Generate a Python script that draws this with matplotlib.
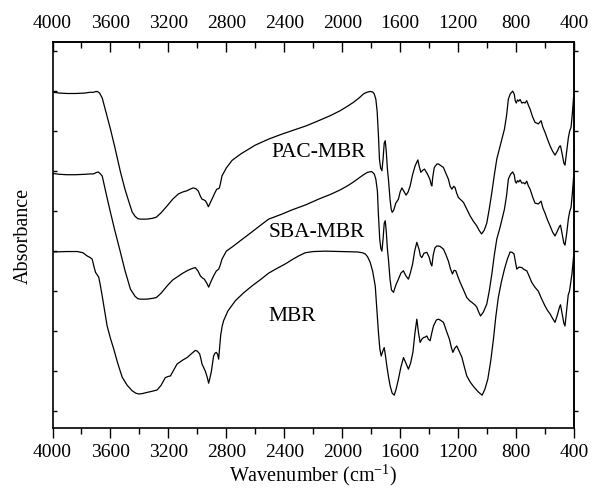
import matplotlib
matplotlib.use("Agg")
import matplotlib.pyplot as plt

plt.rcParams['font.family'] = ['Liberation Serif', 'DejaVu Serif']
plt.rcParams['mathtext.fontset'] = 'custom'
plt.rcParams['mathtext.rm'] = 'Liberation Serif'
plt.rcParams['mathtext.it'] = 'Liberation Serif:italic'

# FTIR spectra (wavenumber in cm-1, absorbance in arbitrary offset units)
pac_wn = [3995, 3950, 3900, 3841, 3780, 3740, 3717, 3700, 3690, 3675, 3657, 3640, 3620, 3600,
          3570, 3531, 3500, 3470, 3450, 3430, 3410, 3393, 3350, 3310, 3283, 3250, 3209, 3170,
          3131, 3100, 3071, 3050, 3028, 3010, 2993, 2980, 2968, 2955, 2945, 2935, 2924, 2912,
          2899, 2880, 2866, 2855, 2848, 2840, 2830, 2800, 2760, 2700, 2600, 2508, 2420, 2347,
          2250, 2163, 2080, 2014, 1960, 1922, 1880, 1853, 1830, 1807, 1790, 1779, 1768, 1759,
          1750, 1743, 1735, 1726, 1718, 1710, 1703, 1696, 1688, 1681, 1670, 1662, 1655, 1645,
          1630, 1612, 1600, 1588, 1575, 1559, 1545, 1531, 1515, 1497, 1478, 1467, 1457, 1445,
          1432, 1420, 1412, 1395, 1385, 1381, 1375, 1365, 1359, 1345, 1336, 1320, 1301, 1285,
          1267, 1255, 1243, 1230, 1221, 1210, 1198, 1180, 1163, 1140, 1117, 1095, 1071, 1055,
          1038, 1020, 1002, 985, 967, 950, 933, 910, 895, 880, 865, 853, 840, 823, 812, 805,
          798, 790, 782, 772, 760, 749, 738, 726, 715, 703, 685, 669, 646, 627, 615, 600, 583,
          565, 548, 531, 515, 500, 493, 480, 470, 462, 450, 439, 430, 420, 410, 400]
pac_abs = [7.97, 7.95, 7.94, 7.94, 7.95, 7.97, 7.97, 7.99, 7.99, 7.95, 7.83, 7.60, 7.33, 7.05,
           6.60, 5.98, 5.55, 5.20, 4.98, 4.87, 4.81, 4.80, 4.80, 4.82, 4.85, 4.96, 5.13, 5.30,
           5.43, 5.48, 5.51, 5.55, 5.58, 5.56, 5.50, 5.38, 5.30, 5.28, 5.26, 5.20, 5.11, 5.20,
           5.30, 5.45, 5.55, 5.56, 5.58, 5.70, 5.88, 6.08, 6.27, 6.43, 6.65, 6.80, 6.92, 7.01,
           7.13, 7.26, 7.39, 7.51, 7.63, 7.72, 7.84, 7.93, 7.97, 7.99, 7.98, 7.93, 7.80, 7.50,
           6.90, 6.30, 6.08, 6.01, 6.30, 6.70, 6.76, 6.50, 6.05, 5.80, 5.30, 5.05, 4.97, 5.02,
           5.20, 5.30, 5.48, 5.58, 5.50, 5.40, 5.48, 5.63, 5.90, 6.13, 6.28, 6.10, 5.97, 6.02,
           6.05, 5.98, 5.93, 5.80, 5.65, 5.63, 5.85, 6.08, 6.12, 6.18, 6.18, 6.14, 6.09, 5.95,
           5.80, 5.62, 5.55, 5.62, 5.59, 5.45, 5.34, 5.28, 5.22, 5.05, 4.88, 4.75, 4.63, 4.52,
           4.43, 4.52, 4.70, 5.05, 5.47, 5.90, 6.30, 6.63, 6.85, 7.05, 7.40, 7.80, 7.93, 8.00, 7.92, 7.75,
           7.70, 7.78, 7.75, 7.79, 7.70, 7.72, 7.70, 7.76, 7.65, 7.55, 7.35, 7.22, 7.18, 7.26, 7.10, 6.97, 6.80,
           6.63, 6.50, 6.40, 6.50, 6.62, 6.63, 6.40, 6.20, 6.15, 6.50, 6.83, 7.00, 7.10, 7.50, 7.99]

sba_wn = [3995, 3950, 3900, 3841, 3780, 3740, 3717, 3700, 3685, 3672, 3657, 3640, 3620, 3600,
          3570, 3531, 3500, 3462, 3430, 3410, 3393, 3350, 3310, 3283, 3250, 3209, 3170, 3129,
          3100, 3071, 3040, 3014, 2995, 2979, 2965, 2952, 2935, 2922, 2905, 2888, 2870, 2853,
          2842, 2830, 2800, 2750, 2700, 2634, 2570, 2508, 2420, 2347, 2250, 2163, 2080, 2014,
          1960, 1922, 1880, 1853, 1825, 1797, 1779, 1768, 1757, 1750, 1741, 1733, 1726, 1718,
          1710, 1703, 1696, 1688, 1681, 1670, 1660, 1646, 1630, 1612, 1595, 1578, 1560, 1543,
          1530, 1514, 1500, 1485, 1470, 1460, 1450, 1435, 1416, 1400, 1388, 1381, 1372, 1360,
          1347, 1325, 1301, 1285, 1267, 1252, 1239, 1228, 1216, 1200, 1186, 1165, 1140, 1120,
          1105, 1085, 1071, 1058, 1045, 1025, 1002, 985, 967, 950, 933, 910, 895, 880, 865, 853,
          838, 823, 812, 805, 798, 790, 782, 772, 760, 749, 738, 726, 715, 703, 685, 669, 646,
          627, 615, 600, 583, 565, 548, 531, 515, 500, 493, 480, 470, 462, 450, 439, 430, 420,
          410, 400]
sba_abs = [5.94, 5.92, 5.91, 5.91, 5.92, 5.93, 5.93, 5.96, 5.98, 5.94, 5.88, 5.60, 5.28, 4.97,
           4.52, 3.97, 3.52, 3.05, 2.87, 2.81, 2.80, 2.80, 2.82, 2.84, 2.95, 3.13, 3.28, 3.38,
           3.45, 3.51, 3.56, 3.59, 3.50, 3.38, 3.33, 3.30, 3.20, 3.10, 3.25, 3.38, 3.50, 3.55,
           3.65, 3.80, 4.00, 4.13, 4.27, 4.45, 4.63, 4.80, 4.92, 5.03, 5.16, 5.30, 5.42, 5.53,
           5.64, 5.73, 5.84, 5.91, 5.97, 5.99, 5.93, 5.80, 5.50, 4.90, 4.30, 4.06, 4.00, 4.30,
           4.70, 4.76, 4.50, 4.05, 3.80, 3.30, 3.03, 2.97, 3.15, 3.30, 3.45, 3.51, 3.38, 3.30,
           3.45, 3.68, 4.00, 4.22, 4.05, 3.88, 3.84, 3.95, 3.97, 3.85, 3.68, 3.63, 3.90, 4.08,
           4.13, 4.12, 4.05, 3.92, 3.75, 3.55, 3.43, 3.52, 3.51, 3.35, 3.22, 3.05, 2.84, 2.76,
           2.72, 2.66, 2.60, 2.48, 2.38, 2.48, 2.68, 3.00, 3.43, 3.90, 4.30, 4.60, 4.82, 5.05, 5.40, 5.80,
           5.92, 5.98, 5.90, 5.74, 5.70, 5.76, 5.73, 5.78, 5.70, 5.71, 5.68, 5.75, 5.63, 5.55, 5.35, 5.20, 5.18,
           5.25, 5.08, 4.95, 4.78, 4.63, 4.48, 4.38, 4.50, 4.62, 4.65, 4.40, 4.20, 4.15, 4.45, 4.80, 4.98, 5.10,
           5.50, 5.98]

mbr_wn = [3995, 3900, 3828, 3790, 3761, 3740, 3726, 3715, 3703, 3690, 3681, 3670, 3657, 3640,
          3623, 3600, 3577, 3550, 3519, 3485, 3450, 3425, 3405, 3380, 3347, 3310, 3278, 3250,
          3221, 3200, 3186, 3160, 3140, 3100, 3071, 3040, 3014, 3000, 2984, 2975, 2968, 2955,
          2945, 2932, 2922, 2912, 2903, 2895, 2888, 2878, 2869, 2860, 2853, 2846, 2839, 2829,
          2819, 2790, 2738, 2680, 2623, 2560, 2508, 2450, 2393, 2340, 2301, 2255, 2200, 2117,
          2000, 1898, 1860, 1841, 1825, 1807, 1790, 1772, 1762, 1750, 1740, 1731, 1720, 1710,
          1700, 1692, 1680, 1669, 1655, 1641, 1628, 1612, 1595, 1577, 1560, 1543, 1528, 1512,
          1498, 1485, 1473, 1462, 1450, 1439, 1428, 1416, 1405, 1393, 1382, 1370, 1350, 1336,
          1320, 1301, 1280, 1260, 1247, 1236, 1222, 1209, 1190, 1174, 1160, 1140, 1115, 1090,
          1060, 1034, 1015, 995, 975, 956, 940, 922, 900, 880, 860, 841, 827, 814, 805, 795, 780,
          760, 745, 726, 710, 692, 670, 646, 625, 600, 583, 565, 548, 531, 515, 500, 493, 480,
          470, 462, 450, 440, 431, 414, 407, 400]
mbr_abs = [3.98, 3.99, 3.99, 3.96, 3.88, 3.84, 3.80, 3.63, 3.47, 3.40, 3.35, 3.15, 2.88, 2.50,
           2.13, 1.82, 1.55, 1.20, 0.85, 0.65, 0.51, 0.45, 0.43, 0.44, 0.47, 0.50, 0.53, 0.65,
           0.84, 0.87, 0.88, 1.05, 1.18, 1.28, 1.34, 1.44, 1.52, 1.50, 1.43, 1.30, 1.18, 1.08,
           1.00, 0.85, 0.70, 0.85, 1.00, 1.20, 1.38, 1.45, 1.47, 1.42, 1.30, 1.60, 1.90, 2.12,
           2.26, 2.50, 2.76, 2.96, 3.13, 3.30, 3.45, 3.57, 3.68, 3.80, 3.88, 3.96, 3.99, 4.00,
           3.99, 3.98, 3.96, 3.93, 3.86, 3.72, 3.50, 3.13, 2.60, 1.97, 1.55, 1.38, 1.50, 1.59,
           1.35, 1.13, 0.85, 0.63, 0.45, 0.40, 0.55, 0.80, 1.10, 1.34, 1.20, 1.05, 1.20, 1.47,
           1.95, 2.30, 1.95, 1.72, 1.80, 1.84, 1.85, 1.88, 1.80, 1.76, 1.95, 2.13, 2.28, 2.30,
           2.27, 2.22, 2.00, 1.80, 1.60, 1.47, 1.58, 1.63, 1.48, 1.35, 1.15, 0.88, 0.72, 0.60,
           0.48, 0.40, 0.55, 0.80, 1.25, 1.80, 2.35, 2.85, 3.25, 3.55, 3.80, 3.98, 3.97, 3.93, 3.75, 3.55, 3.60,
           3.59, 3.54, 3.51, 3.38, 3.22, 3.10, 3.00, 2.82, 2.63, 2.52, 2.43, 2.32, 2.22, 2.40, 2.60, 2.66, 2.40,
           2.20, 2.13, 2.55, 2.90, 3.00, 3.43, 3.70, 3.98]

labels = ['PAC-MBR', 'SBA-MBR', 'MBR']
label_wn = [2490, 2510, 2510]
label_abs = [6.48, 4.48, 2.38]

x_ticks = [4000, 3600, 3200, 2800, 2400, 2000, 1600, 1200, 800, 400]
x_minor = [3800, 3400, 3000, 2600, 2200, 1800, 1400, 1000, 600]
y_ticks = [0, 1, 2, 3, 4, 5, 6, 7, 8, 9]

fig = plt.figure(figsize=(5.94, 4.89), dpi=100)
ax = fig.add_axes([0.0884, 0.1227, 0.8779, 0.7888])

for wn, ab in [(pac_wn, pac_abs), (sba_wn, sba_abs), (mbr_wn, mbr_abs)]:
    ax.plot(wn, ab, color='black', lw=0.9)

for txt, x, y in zip(labels, label_wn, label_abs):
    ax.text(x, y, txt, ha='left', va='center', fontsize=15.5)

ax.set_xlim(4000, 400)
ax.set_ylim(-0.42, 9.22)
ax.set_xticks(x_ticks)
ax.set_xticks(x_minor, minor=True)
ax.set_yticks(y_ticks)
ax.tick_params(axis='x', which='major', direction='out', length=7, width=1, labelsize=14, pad=4)
ax.tick_params(axis='x', which='minor', direction='out', length=4, width=1)
ax.tick_params(axis='y', direction='in', length=3, width=1, labelleft=False)
for s in ax.spines.values():
    s.set_linewidth(1.2)

# top axis: same scale, ticks pointing inward
top = ax.secondary_xaxis('top')
top.set_xticks(x_ticks)
top.set_xticks(x_minor, minor=True)
top.tick_params(axis='x', which='major', direction='in', length=7, width=1, labelsize=14, pad=8)
top.tick_params(axis='x', which='minor', direction='in', length=4, width=1)
top.spines['top'].set_linewidth(1.2)

# right axis: ticks only, pointing outward
right = ax.secondary_yaxis('right')
right.set_yticks(y_ticks)
right.tick_params(axis='y', direction='out', length=3, width=1, labelright=False)
right.spines['right'].set_linewidth(1.2)

ax.set_xlabel('Wavenumber (cm$^{-1}$)', fontsize=14.5, labelpad=1)
ax.set_ylabel('Absorbance', fontsize=14.5, labelpad=14)

fig.savefig('out.png', dpi=100)
